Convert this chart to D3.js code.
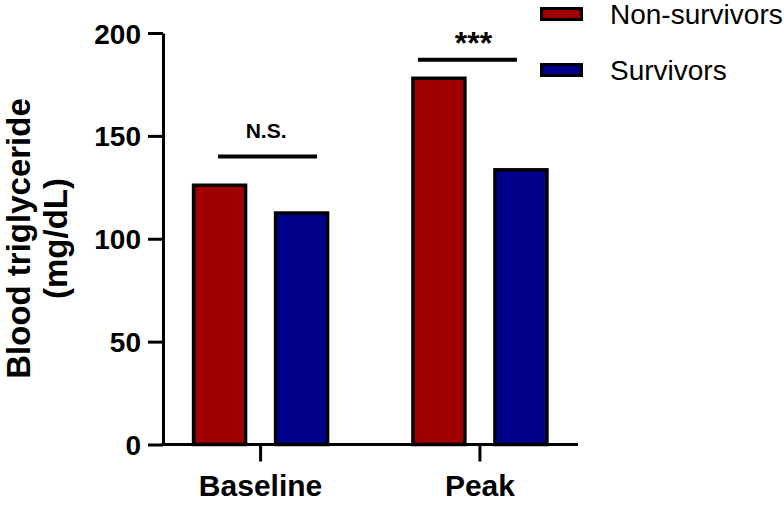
<!DOCTYPE html>
<html><head><meta charset="utf-8">
<script src="https://cdn.jsdelivr.net/npm/d3@7"></script>
<style>body{margin:0;background:#fff}svg{display:block}text{font-family:Arial,"Liberation Sans",sans-serif}</style>
</head><body>
<svg id="c" width="784" height="507"></svg>
<script>
const categories = ["Baseline", "Peak"];
const seriesNames = ["Non-survivors", "Survivors"];
const nonSurvivors = [126, 178];
const survivors = [112.5, 133.5];
const yTicks = [0, 50, 100, 150, 200];
const sigLabels = ["N.S.", "***"];
const sigLevels = [140, 187];
const colors = ["#a00000", "#00008b"];

const svg = d3.select("#c");
const y = d3.scaleLinear().domain([0, 200]).range([444.5, 33]);
const x0 = d3.scaleBand().domain(categories).range([150.9, 589.6]);
const x1 = d3.scaleBand().domain(seriesNames).range([-67, 67]).paddingInner(0.366).paddingOuter(0);
const center = c => x0(c) + x0.bandwidth() / 2;
const data = [nonSurvivors, survivors];

// bars
seriesNames.forEach((s, si) => {
  svg.append("g").selectAll("rect").data(categories).join("rect")
    .attr("x", c => center(c) + x1(s))
    .attr("width", x1.bandwidth())
    .attr("y", (c, i) => y(data[si][i]))
    .attr("height", (c, i) => y(0) - y(data[si][i]))
    .attr("fill", colors[si])
    .attr("stroke", "#000").attr("stroke-width", 3.5);
});

// y axis
const ya = svg.append("g").attr("transform", "translate(163,0)")
  .call(d3.axisLeft(y).tickValues(yTicks).tickSize(15).tickPadding(7).tickSizeOuter(0));
ya.select(".domain").attr("stroke-width", 3);
ya.selectAll(".tick line").attr("stroke-width", 3);
ya.selectAll("text").attr("font-size", 28).attr("font-weight", "bold").attr("fill", "#000").attr("dy", "0.36em");

// x axis
const xa = svg.append("g").attr("transform", "translate(0,444.5)");
xa.append("line").attr("x1", 161.5).attr("x2", 578).attr("stroke", "#000").attr("stroke-width", 3);
xa.selectAll("g.t").data(categories).join("g").attr("class", "t")
  .attr("transform", c => `translate(${center(c)},0)`)
  .each(function(c) {
    const g = d3.select(this);
    g.append("line").attr("y2", 17).attr("stroke", "#000").attr("stroke-width", 3);
    g.append("text").attr("y", 51).attr("text-anchor", "middle")
      .attr("font-size", 30).attr("font-weight", "bold").text(c);
  });

// significance
const sigOffsets = [[-42.5, 56.5, 5.5], [-62, 37, -6.5]];
categories.forEach((c, i) => {
  const cx = center(c);
  const [a, b, t] = sigOffsets[i];
  svg.append("line").attr("x1", cx + a).attr("x2", cx + b)
    .attr("y1", y(sigLevels[i])).attr("y2", y(sigLevels[i]))
    .attr("stroke", "#000").attr("stroke-width", 4);
  svg.append("text").attr("x", cx + t).attr("y", i === 0 ? 138 : 54)
    .attr("text-anchor", "middle").attr("font-size", i === 0 ? 21 : 32).attr("font-weight", "bold")
    .text(sigLabels[i]);
});

// y title
const yt = svg.append("text").attr("transform", "translate(0,238.5) rotate(-90)")
  .attr("text-anchor", "middle").attr("font-size", 33).attr("font-weight", "bold");
yt.append("tspan").attr("x", 0).attr("y", 30).text("Blood triglyceride");
yt.append("tspan").attr("x", 0).attr("y", 67).text("(mg/dL)");

// legend
seriesNames.forEach((s, i) => {
  const ly = 14 + i * 56;
  svg.append("rect").attr("x", 541.5).attr("y", ly - 5.5).attr("width", 40).attr("height", 11)
    .attr("fill", colors[i]).attr("stroke", "#000").attr("stroke-width", 3);
  svg.append("text").attr("x", 610).attr("y", ly + 10)
    .attr("font-size", 28).text(s);
});
</script>
</body></html>
